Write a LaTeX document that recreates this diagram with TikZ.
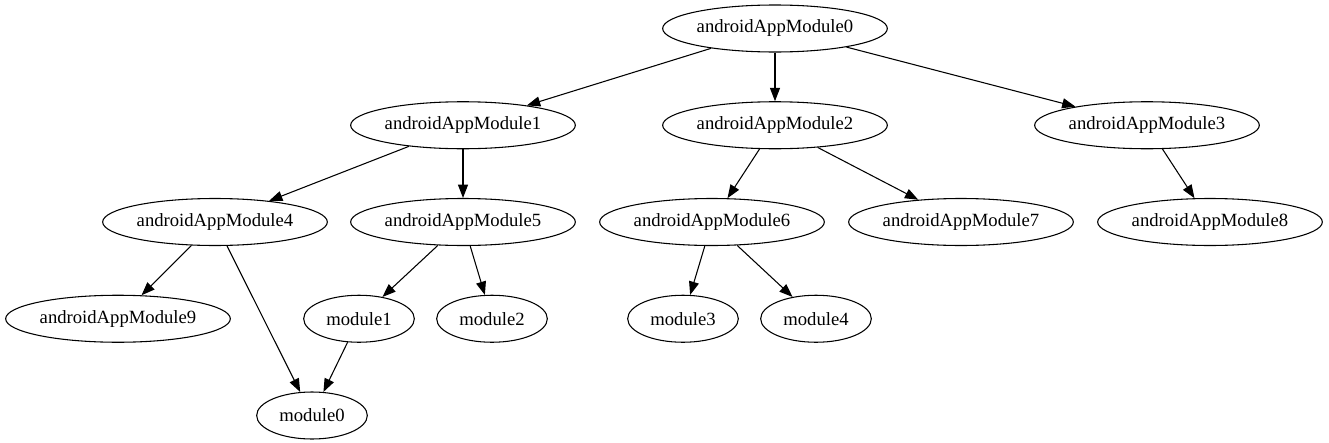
\documentclass[tikz,border=0pt]{standalone}
\usepackage{fontspec}
\setmainfont{Liberation Serif}
\usepackage{tikz}
\usetikzlibrary{positioning,arrows.meta,shapes.geometric}
\tikzset{
  nodo/.style={ellipse, draw=black, line width=0.8pt, inner sep=0pt,
    minimum width=168.5pt, minimum height=35.25pt, font=\fontsize{14}{16}\selectfont},
  nodom/.style={nodo, minimum width=83pt},
  flecha/.style={-{Triangle[length=10pt,width=7.5pt]}, line width=0.8pt, draw=black},
}

\begin{document}
\begin{tikzpicture}[x=0.75pt, y=-0.75pt]
  \useasboundingbox (0,0) rectangle (1329,443);
  % fila 0
  \node[nodo] (a0) at (775,28.5) {androidAppModule0};
  % fila 1
  \node[nodo] (a1) at (463,125.25) {androidAppModule1};
  \node[nodo] (a2) at (775,125.25) {androidAppModule2};
  \node[nodo] (a3) at (1147,125.25) {androidAppModule3};
  % fila 2
  \node[nodo] (a4) at (215,222) {androidAppModule4};
  \node[nodo] (a5) at (463,222) {androidAppModule5};
  \node[nodo] (a6) at (712,222) {androidAppModule6};
  \node[nodo] (a7) at (961,222) {androidAppModule7};
  \node[nodo] (a8) at (1210,222) {androidAppModule8};
  % fila 3
  \node[nodo] (a9) at (118,318.75) {androidAppModule9};
  \node[nodom] (m1) at (359,318.75) {module1};
  \node[nodom] (m2) at (492,318.75) {module2};
  \node[nodom] (m3) at (683,318.75) {module3};
  \node[nodom] (m4) at (816,318.75) {module4};
  % fila 4
  \node[nodom] (m0) at (312,415.5) {module0};

  \draw[flecha] (a0) -- (a1);
  \draw[flecha] (a0) -- (a2);
  \draw[flecha] (a0) -- (a3);
  \draw[flecha] (a1) -- (a4);
  \draw[flecha] (a1) -- (a5);
  \draw[flecha] (a2) -- (a6);
  \draw[flecha] (a2) -- (a7);
  \draw[flecha] (a3) -- (a8);
  \draw[flecha] (a4) -- (a9);
  \draw[flecha] (a4) -- (m0);
  \draw[flecha] (a5) -- (m1);
  \draw[flecha] (a5) -- (m2);
  \draw[flecha] (a6) -- (m3);
  \draw[flecha] (a6) -- (m4);
  \draw[flecha] (m1) -- (m0);
\end{tikzpicture}
\end{document}
